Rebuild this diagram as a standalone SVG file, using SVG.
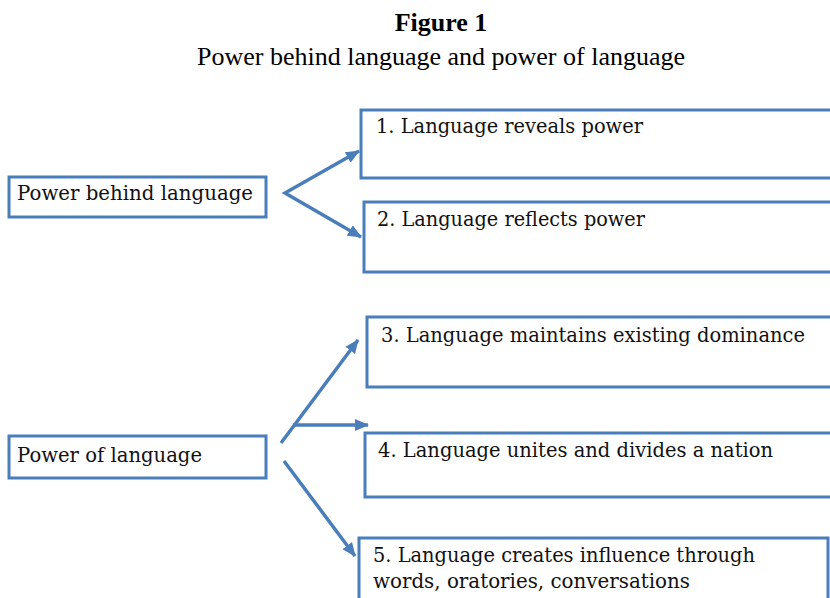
<svg xmlns="http://www.w3.org/2000/svg" width="830" height="598" viewBox="0 0 830 598">
<style>
.box{fill:#fff;stroke:#4a7ebb;stroke-width:3}
.lbl{font-family:"DejaVu Serif","Liberation Serif",serif;font-size:21px;fill:#111}
.ttl{font-family:"Liberation Serif",serif;font-size:26px;fill:#000;text-anchor:middle}
.con{fill:none;stroke:#4a7ebb;stroke-width:3.5;stroke-linejoin:miter}
</style>
<defs>
<marker id="ah" markerUnits="userSpaceOnUse" markerWidth="16" markerHeight="14" refX="13" refY="6" orient="auto-start-reverse" viewBox="0 0 16 12">
<path d="M0,0 L14,6 L0,12 Z" fill="#4a7ebb"/>
</marker>
</defs>
<rect width="830" height="598" fill="#fff"/>
<text class="ttl" x="441" y="31" font-weight="bold">Figure 1</text>
<text class="ttl" x="441" y="65">Power behind language and power of language</text>
<g id="connectors">
<path class="con" d="M359,151 L285,193 L361,237" marker-start="url(#ah)" marker-end="url(#ah)"/>
<path class="con" d="M281,443 L358,340" marker-end="url(#ah)"/>
<path class="con" d="M293,425 L368,425" marker-end="url(#ah)"/>
<path class="con" d="M284,461 L355,556" marker-end="url(#ah)"/>
</g>
<g id="n0"><rect class="box" x="9" y="177" width="257" height="40"/><text class="lbl" x="17" y="200" textLength="236" lengthAdjust="spacingAndGlyphs">Power behind language</text></g>
<g id="n1"><path class="box" d="M830,110 H361 V178 H830"/><text class="lbl" x="376" y="133" textLength="267" lengthAdjust="spacingAndGlyphs">1. Language reveals power</text></g>
<g id="n2"><path class="box" d="M830,202 H364 V272 H830"/><text class="lbl" x="377" y="226" textLength="268" lengthAdjust="spacingAndGlyphs">2. Language reflects power</text></g>
<g id="n3"><rect class="box" x="9" y="436" width="257" height="42"/><text class="lbl" x="17" y="462" textLength="185" lengthAdjust="spacingAndGlyphs">Power of language</text></g>
<g id="n4"><path class="box" d="M830,317 H367 V387 H830"/><text class="lbl" x="381" y="342" style="font-size:20px" textLength="424" lengthAdjust="spacingAndGlyphs">3. Language maintains existing dominance</text></g>
<g id="n5"><path class="box" d="M830,433 H365 V497 H830"/><text class="lbl" x="378" y="457" textLength="395" lengthAdjust="spacingAndGlyphs">4. Language unites and divides a nation</text></g>
<g id="n6"><path class="box" d="M359,598 V538 H828 V598"/><text class="lbl" x="373" y="562" textLength="382" lengthAdjust="spacingAndGlyphs">5. Language creates influence through</text><text class="lbl" x="373" y="588" textLength="317" lengthAdjust="spacingAndGlyphs">words, oratories, conversations</text></g>
</svg>
